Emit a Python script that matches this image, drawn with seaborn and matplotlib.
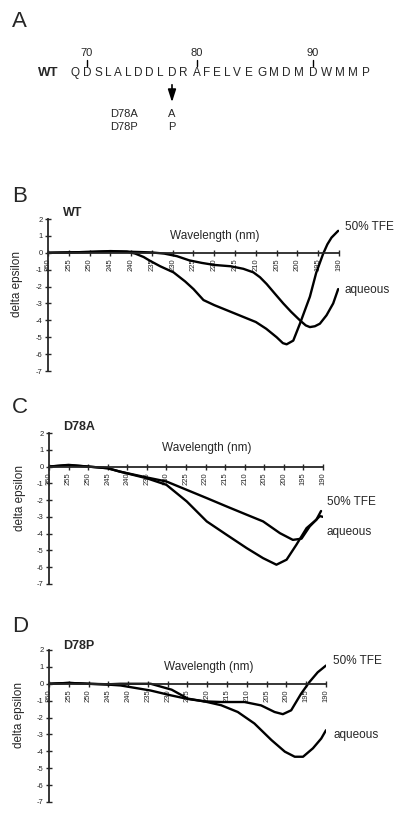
import numpy as np
import pandas as pd
import matplotlib
matplotlib.use("Agg")
import matplotlib.pyplot as plt
import seaborn as sns

# ---- sequence (panel A) ----
wt_sequence = list("QDSLALDDLDRAFELVEGMDMDWMMP")
first_residue = 69
numbered_residues = [70, 80, 90]
mutants = ["D78A", "D78P"]
mutant_residues = ["A", "P"]

# ---- CD spectra (wavelength nm, delta epsilon) ----
wt_tfe_wl = [260, 255, 250, 245, 241, 239, 237, 235.5, 233, 229.8, 227, 225, 222.6, 220, 217.5,
             215, 212.5, 210, 207.5, 205, 203.5, 202.6, 201, 199.4, 197, 195.5, 193.8, 192.8, 191.8, 190.2]
wt_tfe_de = [0, 0.02, 0.05, 0.1, 0.07, -0.05, -0.25, -0.47, -0.8, -1.16, -1.7, -2.15, -2.8, -3.1, -3.35,
             -3.6, -3.85, -4.1, -4.5, -5.0, -5.35, -5.42, -5.2, -4.2, -2.6, -1.2, -0.05, 0.5, 0.9, 1.3]
wt_aq_wl = [260, 255, 250, 245, 240, 235, 232, 229, 226, 223, 220, 216, 213, 210.6, 209, 207.4,
            205.5, 203.4, 201.5, 199.4, 198, 197, 195.8, 194.6, 193, 191.4, 190.2]
wt_aq_de = [0, 0.02, 0.05, 0.08, 0.06, 0.02, -0.05, -0.2, -0.45, -0.6, -0.72, -0.8, -0.95, -1.16, -1.45, -1.85,
            -2.4, -3.0, -3.5, -4.0, -4.3, -4.4, -4.35, -4.2, -3.7, -3.0, -2.15]

d78a_tfe_wl = [260, 255, 250, 245, 241.9, 235, 230, 224.8, 219.7, 214.6, 209.5, 205.3, 201.9,
               199.3, 196.8, 194.2, 191.7, 190.5]
d78a_tfe_de = [0, 0.1, 0, -0.1, -0.3, -0.7, -1.09, -2.08, -3.27, -4.07, -4.86, -5.46, -5.85,
               -5.55, -4.66, -3.67, -3.17, -2.65]
d78a_aq_wl = [260, 255, 250, 245, 241.9, 235, 230, 224.8, 219.7, 214.6, 209.5, 205.3, 201,
              197.7, 195.5, 193.4, 190.8, 190]
d78a_aq_de = [0, 0.08, 0, -0.1, -0.3, -0.65, -0.89, -1.39, -1.88, -2.38, -2.87, -3.27, -3.97,
              -4.37, -4.3, -3.57, -2.95, -3.0]

d78p_tfe_wl = [260, 255, 250, 245, 241.9, 234.3, 229, 224.9, 220.8, 216.5, 210.6, 206.4, 203,
               200.9, 198.8, 196.3, 194.2, 192.1, 190]
d78p_tfe_de = [0, 0.05, 0, -0.03, 0, 0, -0.35, -0.88, -1.04, -1.08, -1.08, -1.28, -1.67,
               -1.8, -1.57, -0.59, 0.1, 0.68, 1.08]
d78p_aq_wl = [260, 255, 250, 245, 241.9, 234.3, 229.1, 224.9, 220.8, 216.5, 212.3, 208.1, 203.8,
              200.4, 197.9, 195.8, 193.3, 191.2, 190]
d78p_aq_de = [0, 0.05, 0, -0.05, -0.1, -0.4, -0.69, -0.9, -1.04, -1.27, -1.67, -2.35, -3.33,
              -4.02, -4.32, -4.32, -3.82, -3.24, -2.75]

wl_ticks = list(range(260, 189, -5))
de_ticks = list(range(-7, 3))

sns.set_style("ticks")
plt.rcParams["font.family"] = ["Liberation Sans", "DejaVu Sans"]

W, H = 400, 819
fig = plt.figure(figsize=(W / 100, H / 100), dpi=100)


def fx(px):
    return px / W


def fy(py):
    return 1 - py / H


# ---------------- panel A ----------------
fig.text(fx(12), fy(27), "A", fontsize=16, ha="left", va="baseline")
fig.text(fx(38), fy(73), "WT", fontsize=9.5, fontweight="bold", ha="left", va="center")
letter_px = [75, 87, 98, 108, 118, 128, 138, 149, 160, 172, 183, 197, 207, 217, 227, 237,
             249, 262, 274, 286, 299, 313, 327, 340, 353, 366]
for px, aa in zip(letter_px, wt_sequence):
    fig.text(fx(px), fy(73), aa, fontsize=8.5, ha="center", va="center")
for num in numbered_residues:
    px = letter_px[num - first_residue]
    fig.text(fx(px), fy(53), str(num), fontsize=8, ha="center", va="center")
    fig.add_artist(plt.Line2D([fx(px), fx(px)], [fy(60), fy(66)], color="black", lw=1))
arrow_px = letter_px[78 - first_residue]
fig.add_artist(matplotlib.patches.FancyArrowPatch(
    (fx(arrow_px), fy(82)), (fx(arrow_px), fy(105)), transform=fig.transFigure,
    arrowstyle="-|>,head_length=5,head_width=1.6", color="black", lw=1.2, mutation_scale=1.5))
for i, (name, res) in enumerate(zip(mutants, mutant_residues)):
    y = 114 + i * 13
    fig.text(fx(110), fy(y), name, fontsize=8, ha="left", va="center")
    fig.text(fx(arrow_px), fy(y), res, fontsize=8, ha="center", va="center")

# ---------------- CD panels ----------------
panels = [
    ("B", "WT", (48, 339, 219, 371), 187, wt_tfe_wl, wt_tfe_de, wt_aq_wl, wt_aq_de,
     (188.6, 1.5), (188.6, -2.2), (220, 1.0), 1.0),
    ("C", "D78A", (49, 323, 433, 584), 398, d78a_tfe_wl, d78a_tfe_de, d78a_aq_wl, d78a_aq_de,
     (189.0, -2.1), (189.0, -3.9), (219.6, 1.1), 1.0),
    ("D", "D78P", (49, 326, 650, 802), 617, d78p_tfe_wl, d78p_tfe_de, d78p_aq_wl, d78p_aq_de,
     (188.2, 1.35), (188.2, -3.06), (219.6, 1.0), 0.985),
]

for letter, name, (x0, x1, y0, y1), ly, tw, td, aw, ad, tfe_pos, aq_pos, wl_pos, name_y in panels:
    fig.text(fx(12), fy(ly + 15), letter, fontsize=16, ha="left", va="baseline")
    ax = fig.add_axes([fx(x0), fy(y1), (x1 - x0) / W, (y1 - y0) / H])
    df = pd.concat([
        pd.DataFrame({"wavelength": tw, "de": td, "condition": "50% TFE"}),
        pd.DataFrame({"wavelength": aw, "de": ad, "condition": "aqueous"}),
    ])
    sns.lineplot(data=df, x="wavelength", y="de", hue="condition",
                 palette={"50% TFE": "black", "aqueous": "black"},
                 estimator=None, sort=False, legend=False, lw=1.7, ax=ax)
    ax.set_xlim(260, 190)
    ax.set_ylim(-7, 2)
    ax.spines["top"].set_visible(False)
    ax.spines["right"].set_visible(False)
    ax.spines["bottom"].set_position(("data", 0))
    ax.spines["bottom"].set_linewidth(1.3)
    ax.spines["left"].set_linewidth(1.3)
    ax.set_xticks(wl_ticks)
    ax.set_xticklabels([str(t) for t in wl_ticks], rotation=90, fontsize=5.5)
    ax.set_yticks(de_ticks)
    ax.set_yticklabels([str(t) for t in de_ticks], fontsize=5.5)
    ax.tick_params(direction="inout", length=5, width=1, pad=1.5)
    ax.set_xlabel("")
    ax.set_ylabel("delta epsilon", fontsize=8.5)
    ax.yaxis.set_label_coords(-0.085, 0.57)
    ax.text(0.05, name_y, name, transform=ax.transAxes, fontsize=9, fontweight="bold",
            ha="left", va="bottom")
    ax.text(wl_pos[0], wl_pos[1], "Wavelength (nm)", fontsize=8.5, ha="center", va="center")
    ax.text(tfe_pos[0], tfe_pos[1], "50% TFE", fontsize=8.5, ha="left", va="center", clip_on=False)
    ax.text(aq_pos[0], aq_pos[1], "aqueous", fontsize=8.5, ha="left", va="center", clip_on=False)

fig.savefig("out.png", dpi=100)
